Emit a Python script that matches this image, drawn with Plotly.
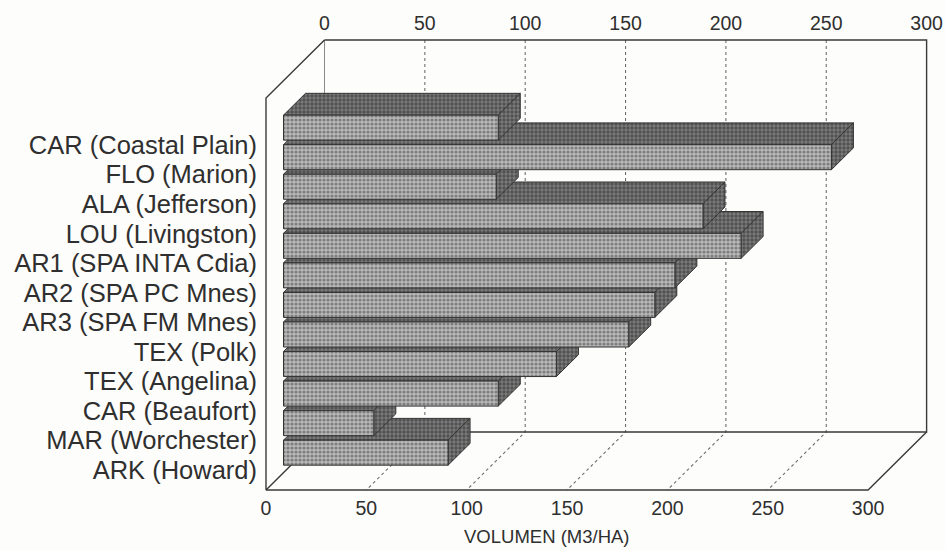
import plotly.graph_objects as go

# ---- data -------------------------------------------------------------
sites = [
    "CAR (Coastal Plain)", "FLO (Marion)", "ALA (Jefferson)", "LOU (Livingston)",
    "AR1 (SPA INTA Cdia)", "AR2 (SPA PC Mnes)", "AR3 (SPA FM Mnes)", "TEX (Polk)",
    "TEX (Angelina)", "CAR (Beaufort)", "MAR (Worchester)", "ARK (Howard)",
]
volumen = [107, 273, 106, 209, 228, 195, 185, 172, 136, 107, 45, 82]
tick_values = [0, 50, 100, 150, 200, 250, 300]
axis_title = "VOLUMEN (M3/HA)"

# ---- layout geometry (pixels) ----------------------------------------
W, H = 945, 550
PX_PER_UNIT = 2.007          # horizontal pixels per m3/ha
ROW_PX = 29.55               # vertical pixels per category row
L_M, R_M, T_M, B_M = 262, 0, 38, 58
X0_PX = 266                  # value 0 on the front plane
ROW0_PX = 145                # first category on the front plane
DEPTH_X_PX, DEPTH_Y_PX = 58.5, 58.0   # oblique depth of the box
BOX_TOP_PX, BOX_BOT_PX = 98, 490      # front edge of box (top / floor)
BAR_OFF_PX, BAR_DEPTH_PX, BAR_H_PX = 17.5, 22.0, 25.0
TITLE_X_PX, TITLE_Y_PX = 547, 536

DXU = DEPTH_X_PX / PX_PER_UNIT
DYR = DEPTH_Y_PX / ROW_PX
F1 = BAR_OFF_PX / DEPTH_X_PX
F2 = (BAR_OFF_PX + BAR_DEPTH_PX) / DEPTH_X_PX
HH = BAR_H_PX / ROW_PX / 2
BOX_TOP = (BOX_TOP_PX - ROW0_PX) / ROW_PX
BOX_BOT = (BOX_BOT_PX - ROW0_PX) / ROW_PX
VMAX = tick_values[-1]

x_range = [(L_M - X0_PX) / PX_PER_UNIT, (W - R_M - X0_PX) / PX_PER_UNIT]
y_range = [(H - B_M - ROW0_PX) / ROW_PX, (T_M - ROW0_PX) / ROW_PX]


def P(v, r, f):
    """Oblique projection: value v, row r, depth fraction f (0 front, 1 back)."""
    return v + f * DXU, r - f * DYR


def path(points):
    xs = [p[0] for p in points]
    ys = [p[1] for p in points]
    return xs, ys


fig = go.Figure()

FRAME = dict(color="#3a3a3a", width=1.4)
GRID = dict(color="#6e6e6e", width=1.1, dash="dot")


def add_line(points, line):
    xs, ys = path(points)
    fig.add_trace(go.Scatter(x=xs, y=ys, mode="lines", line=line,
                             hoverinfo="skip", showlegend=False))


# dotted grid on back wall and floor
for v in tick_values[1:-1]:
    add_line([P(v, BOX_TOP, 1), P(v, BOX_BOT, 1), P(v, BOX_BOT, 0)], GRID)
add_line([P(0, BOX_TOP, 1), P(0, BOX_BOT, 1)], dict(color="#8a8a8a", width=1))

# box outline
add_line([P(0, BOX_TOP, 1), P(VMAX, BOX_TOP, 1), P(VMAX, BOX_BOT, 1),
          P(0, BOX_BOT, 1)], FRAME)
add_line([P(0, BOX_BOT, 1), P(0, BOX_BOT, 0), P(0, BOX_TOP, 0),
          P(0, BOX_TOP, 1)], FRAME)
add_line([P(0, BOX_BOT, 0), P(VMAX, BOX_BOT, 0), P(VMAX, BOX_BOT, 1)], FRAME)

EDGE = dict(color="#333333", width=1)
FRONT_PAT = dict(shape=".", fgcolor="#444444", bgcolor="#b9b9b9",
                 size=4, solidity=0.5)
DARK_PAT = dict(shape=".", fgcolor="#262626", bgcolor="#7c7c7c",
                size=4, solidity=0.55)


def add_face(points, pattern):
    xs, ys = path(points + [points[0]])
    fig.add_trace(go.Scatter(x=xs, y=ys, mode="lines", fill="toself",
                             fillcolor=pattern["bgcolor"], fillpattern=pattern,
                             line=EDGE, hoverinfo="skip", showlegend=False))


# bars, drawn bottom row first so upper bars overlap the ones below
for r in range(len(sites) - 1, -1, -1):
    v = volumen[r]
    top, bot = r - HH, r + HH
    add_face([P(0, top, F1), P(v, top, F1), P(v, top, F2), P(0, top, F2)], DARK_PAT)
    add_face([P(v, top, F1), P(v, bot, F1), P(v, bot, F2), P(v, top, F2)], DARK_PAT)
    add_face([P(0, top, F1), P(v, top, F1), P(v, bot, F1), P(0, bot, F1)], FRONT_PAT)

FONT = "Liberation Sans, Arial, Helvetica, sans-serif"
TXT = "#2f2f2f"

fig.update_layout(
    width=W, height=H,
    margin=dict(l=L_M, r=R_M, t=T_M, b=B_M),
    paper_bgcolor="#fdfdfb", plot_bgcolor="rgba(0,0,0,0)",
    font=dict(family=FONT, color=TXT),
    xaxis=dict(range=x_range, tickvals=tick_values, ticks="", showgrid=False,
               zeroline=False, showline=False, tickfont=dict(size=19.5),
               ticklabelstandoff=2, fixedrange=True),
    xaxis2=dict(range=[x_range[0] - DXU, x_range[1] - DXU], overlaying="x",
                side="top", tickvals=tick_values, ticks="", showgrid=False,
                zeroline=False, showline=False, tickfont=dict(size=19.5),
                ticklabelstandoff=3, fixedrange=True),
    yaxis=dict(range=y_range, tickvals=list(range(len(sites))), ticktext=sites,
               ticks="", showgrid=False, zeroline=False, showline=False,
               tickfont=dict(size=25.5), ticklabelstandoff=4, fixedrange=True),
    annotations=[dict(text=axis_title, xref="x", yref="paper",
                      x=(TITLE_X_PX - X0_PX) / PX_PER_UNIT,
                      y=(H - B_M - TITLE_Y_PX) / (H - T_M - B_M),
                      xanchor="center", yanchor="middle",
                      showarrow=False, font=dict(size=18.5, color=TXT))],
)
# empty trace so the top axis is rendered
fig.add_trace(go.Scatter(x=[None], y=[None], xaxis="x2", showlegend=False,
                         hoverinfo="skip"))

fig.write_html("out.html")
